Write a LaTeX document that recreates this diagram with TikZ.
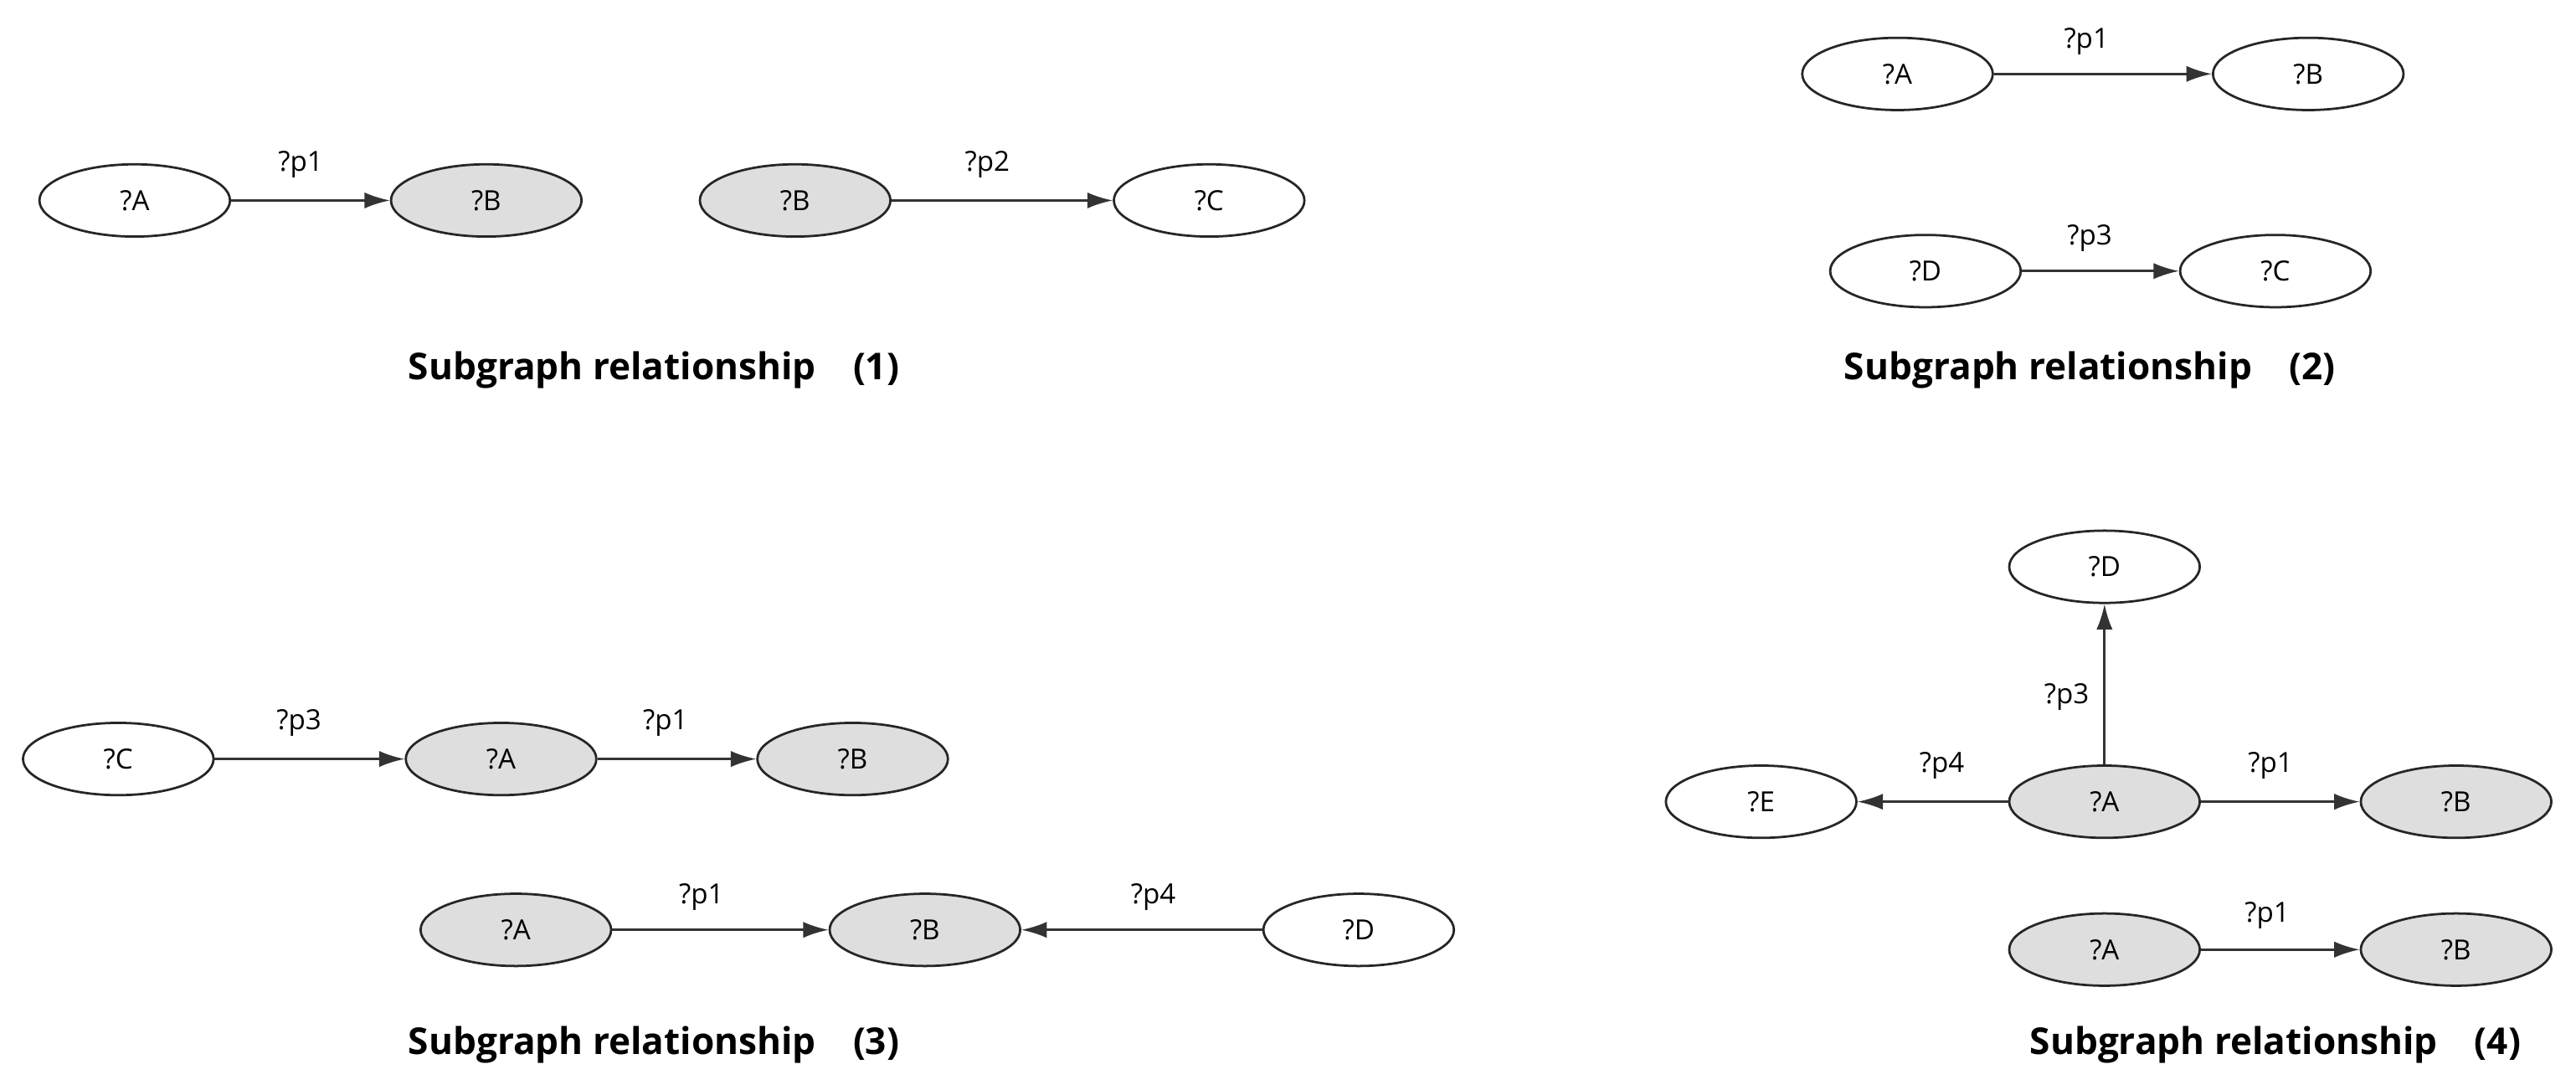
\documentclass[tikz,border=0pt]{standalone}
\usepackage{fontspec}
\setmainfont{Open Sans}
\usetikzlibrary{shapes.geometric,arrows.meta}
\begin{document}
\begin{tikzpicture}[x=0.05cm,y=-0.05cm,
  v/.style={ellipse,draw=black!85,line width=2pt,minimum width=5.8cm,minimum height=2.2cm,font=\fontsize{24}{28}\selectfont},
  g/.style={v,fill=black!13},
  e/.style={draw=black!80,line width=2pt,-{Latex[length=22pt,width=14pt]}},
  lab/.style={font=\fontsize{24}{28}\selectfont},
  captxt/.style={font=\bfseries\fontsize{32}{36}\selectfont}]
\useasboundingbox (0,0) rectangle (1568,663);
% group 1
\node[v] (a1) at (82,122) {?A};
\node[g] (b1) at (296,122) {?B};
\node[g] (b1b) at (484,122) {?B};
\node[v] (c1) at (736,122) {?C};
\draw[e] (a1) -- (b1);
\draw[e] (b1b) -- (c1);
\node[lab] (l1) at (183,100) {?p1};
\node[lab] (l2) at (601,100) {?p2};
\node[captxt] (cap1) at (398,225) {Subgraph relationship\quad(1)};
% group 2
\node[v] (a2) at (1155,45) {?A};
\node[v] (b2) at (1405,45) {?B};
\node[v] (d2) at (1172,165) {?D};
\node[v] (c2) at (1385,165) {?C};
\draw[e] (a2) -- (b2);
\draw[e] (d2) -- (c2);
\node[lab] (l3) at (1270,25) {?p1};
\node[lab] (l4) at (1272,145) {?p3};
\node[captxt] (cap2) at (1272,225) {Subgraph relationship\quad(2)};
% group 3
\node[v] (c3) at (72,462) {?C};
\node[g] (a3) at (305,462) {?A};
\node[g] (b3) at (519,462) {?B};
\draw[e] (c3) -- (a3);
\draw[e] (a3) -- (b3);
\node[lab] (l5) at (182,440) {?p3};
\node[lab] (l6) at (405,440) {?p1};
\node[g] (a3b) at (314,566) {?A};
\node[g] (b3b) at (563,566) {?B};
\node[v] (d3) at (827,566) {?D};
\draw[e] (a3b) -- (b3b);
\draw[e] (d3) -- (b3b);
\node[lab] (l7) at (427,546) {?p1};
\node[lab] (l8) at (702,546) {?p4};
\node[captxt] (cap3) at (398,636) {Subgraph relationship\quad(3)};
% group 4
\node[v] (d4) at (1281,345) {?D};
\node[v] (e4) at (1072,488) {?E};
\node[g] (a4) at (1281,488) {?A};
\node[g] (b4) at (1495,488) {?B};
\draw[e] (a4) -- (d4);
\draw[e] (a4) -- (e4);
\draw[e] (a4) -- (b4);
\node[lab] (l9) at (1258,424) {?p3};
\node[lab] (l10) at (1182,466) {?p4};
\node[lab] (l11) at (1382,466) {?p1};
\node[g] (a4b) at (1281,578) {?A};
\node[g] (b4b) at (1495,578) {?B};
\draw[e] (a4b) -- (b4b);
\node[lab] (l12) at (1380,557) {?p1};
\node[captxt] (cap4) at (1385,636) {Subgraph relationship\quad(4)};
\end{tikzpicture}
\end{document}
